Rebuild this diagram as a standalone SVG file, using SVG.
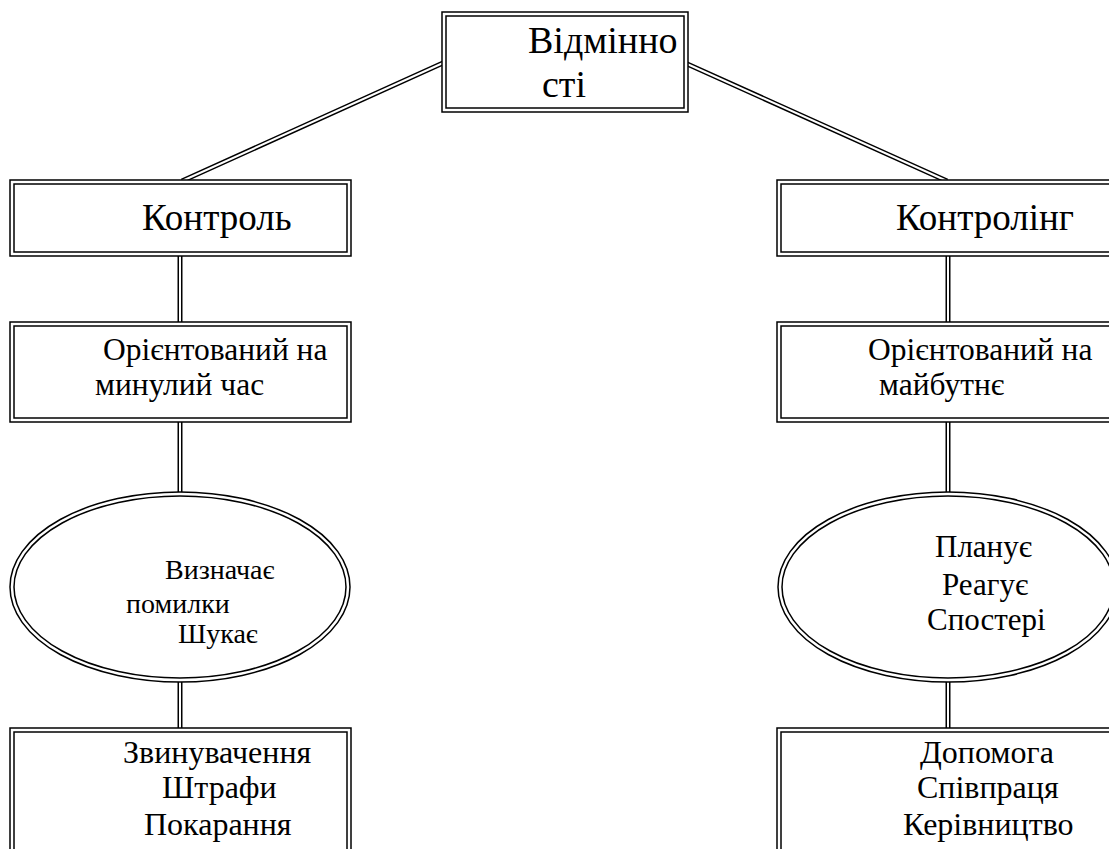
<svg xmlns="http://www.w3.org/2000/svg" width="1109" height="849" viewBox="0 0 1109 849">
<style>
.o{fill:none;stroke:#000;stroke-width:5.5}
.i{fill:none;stroke:#fff;stroke-width:2.5}
.co{fill:none;stroke:#000;stroke-width:5}
.ci{fill:none;stroke:#fff;stroke-width:2}
.t{font-family:'Liberation Serif','DejaVu Serif',serif;fill:#000}
</style>
<rect width="1109" height="849" fill="#fff"/>
<g id="connectors">
<path class="co" d="M443,63 L182,181 M685,63 L947,181 M180,256 V322 M180,422 V492 M180,682 V728 M948,256 V322 M948,422 V492 M948,682 V728"/>
<path class="ci" d="M443,63 L182,181 M685,63 L947,181 M180,254 V324 M180,420 V494 M180,680 V730 M948,254 V324 M948,420 V494 M948,680 V730"/>
</g>
<g id="n-top">
<rect x="444" y="14" width="242" height="96" fill="#fff"/>
<rect class="o" x="444" y="14" width="242" height="96"/><rect class="i" x="444" y="14" width="242" height="96"/>
<text class="t" x="528" y="53" font-size="38">Відмінно</text>
<text class="t" x="542" y="97" font-size="38">сті</text>
</g>
<g id="n-kontrol">
<rect x="12" y="182" width="337" height="72" fill="#fff"/>
<rect class="o" x="12" y="182" width="337" height="72"/><rect class="i" x="12" y="182" width="337" height="72"/>
<text class="t" x="142" y="230" font-size="37">Контроль</text>
</g>
<g id="n-kontroling">
<rect x="779" y="182" width="400" height="72" fill="#fff"/>
<rect class="o" x="779" y="182" width="400" height="72"/><rect class="i" x="779" y="182" width="400" height="72"/>
<text class="t" x="896" y="230" font-size="37">Контролінг</text>
</g>
<g id="n-past">
<rect x="12" y="324" width="337" height="96" fill="#fff"/>
<rect class="o" x="12" y="324" width="337" height="96"/><rect class="i" x="12" y="324" width="337" height="96"/>
<text class="t" x="103" y="360" font-size="31.5">Орієнтований на</text>
<text class="t" x="95" y="395" font-size="31.5">минулий час</text>
</g>
<g id="n-future">
<rect x="779" y="324" width="400" height="96" fill="#fff"/>
<rect class="o" x="779" y="324" width="400" height="96"/><rect class="i" x="779" y="324" width="400" height="96"/>
<text class="t" x="868" y="360" font-size="31.5">Орієнтований на</text>
<text class="t" x="879" y="395" font-size="31.5">майбутнє</text>
</g>
<g id="n-ell-left">
<ellipse cx="180" cy="587" rx="168" ry="93" fill="#fff"/>
<ellipse class="o" cx="180" cy="587" rx="168" ry="93"/><ellipse class="i" cx="180" cy="587" rx="168" ry="93"/>
<text class="t" x="165" y="579" font-size="28">Визначає</text>
<text class="t" x="126" y="613" font-size="28">помилки</text>
<text class="t" x="178" y="643" font-size="28">Шукає</text>
</g>
<g id="n-ell-right">
<ellipse cx="948" cy="587" rx="168" ry="93" fill="#fff"/>
<ellipse class="o" cx="948" cy="587" rx="168" ry="93"/><ellipse class="i" cx="948" cy="587" rx="168" ry="93"/>
<text class="t" x="935" y="557" font-size="31">Планує</text>
<text class="t" x="942" y="595" font-size="31">Реагує</text>
<text class="t" x="927" y="630" font-size="31">Спостері</text>
</g>
<g id="n-bottom-left">
<rect x="12" y="730" width="337" height="200" fill="#fff"/>
<rect class="o" x="12" y="730" width="337" height="200"/><rect class="i" x="12" y="730" width="337" height="200"/>
<text class="t" x="123" y="763" font-size="32">Звинувачення</text>
<text class="t" x="162" y="798" font-size="32">Штрафи</text>
<text class="t" x="144" y="835" font-size="32">Покарання</text>
</g>
<g id="n-bottom-right">
<rect x="779" y="730" width="400" height="200" fill="#fff"/>
<rect class="o" x="779" y="730" width="400" height="200"/><rect class="i" x="779" y="730" width="400" height="200"/>
<text class="t" x="920" y="763" font-size="32">Допомога</text>
<text class="t" x="917" y="798" font-size="32">Співпраця</text>
<text class="t" x="903" y="835" font-size="32">Керівництво</text>
</g>
</svg>
